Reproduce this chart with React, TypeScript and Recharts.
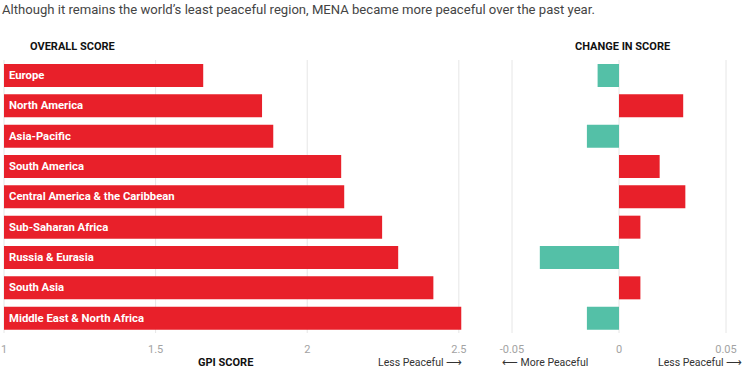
import React from 'react';
import { BarChart, Bar, XAxis, YAxis, Cell, LabelList, CartesianGrid } from 'recharts';

const regions = [
  'Europe',
  'North America',
  'Asia-Pacific',
  'South America',
  'Central America & the Caribbean',
  'Sub-Saharan Africa',
  'Russia & Eurasia',
  'South Asia',
  'Middle East & North Africa',
];
const overallScore = [1.657, 1.851, 1.888, 2.112, 2.122, 2.247, 2.300, 2.416, 2.508];
const scoreChange = [-0.010, 0.030, -0.015, 0.019, 0.031, 0.010, -0.037, 0.010, -0.015];
const overallTicks = [1, 1.5, 2, 2.5];
const changeTicks = [-0.05, 0, 0.05];
const overallDomain: [number, number] = [1, 2.55];
const changeDomain: [number, number] = [-0.05, 0.05];

const RED = '#e8202a';
const TEAL = '#54c0a7';
const GRID = '#e6e6e6';
const FONT = 'Roboto, "Noto Sans", sans-serif';

const overallData = regions.map((region, i) => ({ region, score: overallScore[i] }));
const changeData = regions.map((region, i) => ({ region, change: scoreChange[i] }));

const renderRegionLabel = (props: any) => {
  const { x, y, height, value } = props;
  return (
    <text x={x + 5} y={y + height / 2} dominantBaseline="central" fill="#fff" fontSize={11.3} fontWeight={700} fontFamily={FONT}>
      {value}
    </text>
  );
};

// vertical grid lines only at the tick values (no line at the domain edges)
const gridAt = (ticks: number[], domain: [number, number]) => (props: any) => {
  const scale = props?.xAxis?.scale;
  if (typeof scale === 'function') return ticks.map((t) => scale(t));
  const { left, width } = props.offset;
  return ticks.map((t) => left + ((t - domain[0]) / (domain[1] - domain[0])) * width);
};

const tickStyle = { fill: '#a3a3a3', fontSize: 11, fontFamily: FONT };

export default function App() {
  return (
    <div style={{ position: 'absolute', left: 0, top: 0, width: 750, height: 375, background: '#fff', fontFamily: FONT }}>
      <div style={{ position: 'absolute', left: 2, top: 2, fontSize: 13.1, color: '#444', whiteSpace: 'nowrap' }}>
        Although it remains the world’s least peaceful region, MENA became more peaceful over the past year.
      </div>
      <div style={{ position: 'absolute', left: 30, top: 40, fontSize: 11, fontWeight: 700, color: '#111' }}>OVERALL SCORE</div>
      <div style={{ position: 'absolute', left: 575, top: 40, fontSize: 11, fontWeight: 700, color: '#111' }}>CHANGE IN SCORE</div>

      {/* Overall score */}
      <div style={{ position: 'absolute', left: 0, top: 0 }}>
        <BarChart width={480} height={375} data={overallData} layout="vertical" margin={{ top: 60, right: 6, left: 4, bottom: 12 }}>
          <CartesianGrid horizontal={false} stroke={GRID} verticalCoordinatesGenerator={gridAt(overallTicks, overallDomain)} />
          <XAxis type="number" domain={overallDomain} ticks={overallTicks} axisLine={false} tickLine={false} tick={tickStyle} tickMargin={6} height={30} />
          <YAxis type="category" dataKey="region" hide />
          <Bar dataKey="score" fill={RED} barSize={23} isAnimationActive={false}>
            <LabelList dataKey="region" content={renderRegionLabel} />
          </Bar>
        </BarChart>
      </div>

      {/* Change in score */}
      <div style={{ position: 'absolute', left: 480, top: 0 }}>
        <BarChart width={270} height={375} data={changeData} layout="vertical" margin={{ top: 60, right: 24, left: 32, bottom: 12 }}>
          <CartesianGrid horizontal={false} stroke={GRID} verticalCoordinatesGenerator={gridAt(changeTicks, changeDomain)} />
          <XAxis type="number" domain={changeDomain} ticks={changeTicks} axisLine={false} tickLine={false} tick={tickStyle} tickMargin={6} height={30} />
          <YAxis type="category" dataKey="region" hide />
          <Bar dataKey="change" barSize={23} isAnimationActive={false}>
            {changeData.map((d, i) => (
              <Cell key={i} fill={d.change < 0 ? TEAL : RED} />
            ))}
          </Bar>
        </BarChart>
      </div>

      <div style={{ position: 'absolute', left: 198, top: 356, fontSize: 11, fontWeight: 700, color: '#111' }}>GPI SCORE</div>
      <div style={{ position: 'absolute', left: 378, top: 356, fontSize: 10.5, color: '#333', whiteSpace: 'nowrap' }}>Less Peaceful ⟶</div>
      <div style={{ position: 'absolute', left: 502, top: 356, fontSize: 10.5, color: '#333', whiteSpace: 'nowrap' }}>⟵ More Peaceful</div>
      <div style={{ position: 'absolute', left: 658, top: 356, fontSize: 10.5, color: '#333', whiteSpace: 'nowrap' }}>Less Peaceful ⟶</div>
    </div>
  );
}
